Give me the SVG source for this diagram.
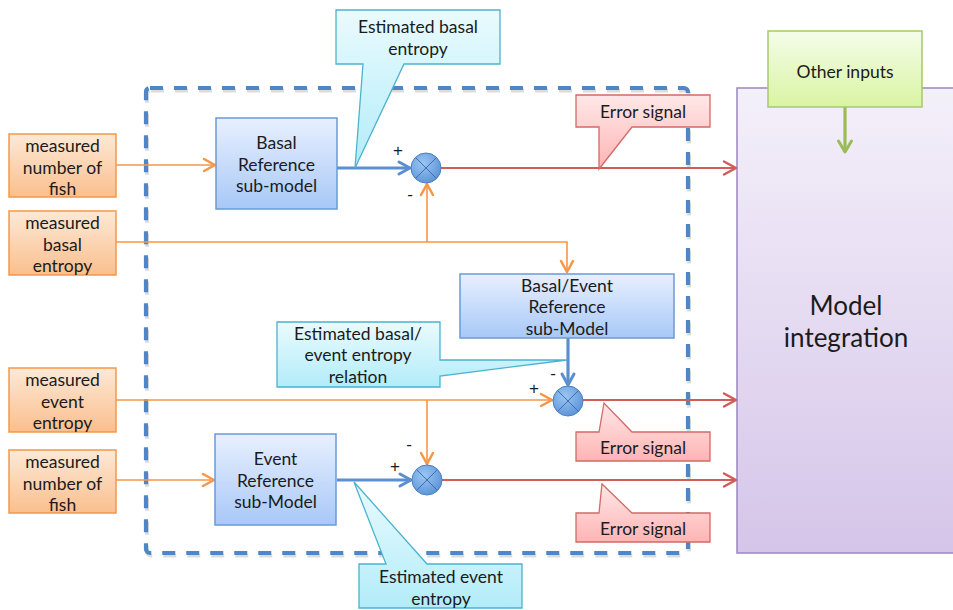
<svg xmlns="http://www.w3.org/2000/svg" width="953" height="610" viewBox="0 0 953 610">
  <defs>
    <linearGradient id="gOrange" x1="0" y1="0" x2="0" y2="1">
      <stop offset="0" stop-color="#fde9d6"/>
      <stop offset="1" stop-color="#fabf8e"/>
    </linearGradient>
    <linearGradient id="gBlue" x1="0" y1="0" x2="0" y2="1">
      <stop offset="0" stop-color="#e8f0ff"/>
      <stop offset="1" stop-color="#a8c8f7"/>
    </linearGradient>
    <linearGradient id="gCyan" x1="0" y1="0" x2="0" y2="1">
      <stop offset="0" stop-color="#eafbfe"/>
      <stop offset="1" stop-color="#b2ecf9"/>
    </linearGradient>
    <linearGradient id="gPink" x1="0" y1="0" x2="0" y2="1">
      <stop offset="0" stop-color="#ffe8e8"/>
      <stop offset="1" stop-color="#ffb4b4"/>
    </linearGradient>
    <linearGradient id="gGreen" x1="0" y1="0" x2="0" y2="1">
      <stop offset="0" stop-color="#f5fdea"/>
      <stop offset="1" stop-color="#d9f4a2"/>
    </linearGradient>
    <linearGradient id="gPurple" x1="0" y1="0" x2="0" y2="1">
      <stop offset="0" stop-color="#f4f0fa"/>
      <stop offset="1" stop-color="#d5c5e9"/>
    </linearGradient>
    <radialGradient id="gSum" cx="0.4" cy="0.35" r="0.7">
      <stop offset="0" stop-color="#9cc6f3"/>
      <stop offset="1" stop-color="#5a92d6"/>
    </radialGradient>
    <marker id="arOrange" markerUnits="userSpaceOnUse" markerWidth="16" markerHeight="16" refX="12" refY="7" orient="auto" overflow="visible">
      <path d="M1,1 L12,7 L1,13" fill="none" stroke="#f79646" stroke-width="2.5" stroke-linejoin="round" stroke-linecap="round"/>
    </marker>
    <marker id="arRed" markerUnits="userSpaceOnUse" markerWidth="16" markerHeight="16" refX="12" refY="7" orient="auto" overflow="visible">
      <path d="M0,0.5 L12,7 L0,13.5" fill="none" stroke="#cf5d58" stroke-width="2.5" stroke-linejoin="round" stroke-linecap="round"/>
    </marker>
    <marker id="arBlue" markerUnits="userSpaceOnUse" markerWidth="16" markerHeight="16" refX="12" refY="7" orient="auto" overflow="visible">
      <path d="M1,1 L12,7 L1,13" fill="none" stroke="#5b8fcf" stroke-width="3" stroke-linejoin="round" stroke-linecap="round"/>
    </marker>
    <marker id="arGreen" markerUnits="userSpaceOnUse" markerWidth="16" markerHeight="16" refX="12" refY="7" orient="auto" overflow="visible">
      <path d="M1,0.5 L12,7 L1,13.5" fill="none" stroke="#9bbb59" stroke-width="3" stroke-linejoin="round" stroke-linecap="round"/>
    </marker>
  </defs>
  <style>
    text { font-family: Lato, "Open Sans", "DejaVu Sans", sans-serif; font-size: 17.5px; fill: #1b1b1b; text-anchor: middle; }
    .big { font-size: 26px; }
    .sign { font-size: 17px; font-family: "Liberation Sans", Arial, sans-serif; }
    .input rect { fill: url(#gOrange); stroke: #f79646; stroke-width: 1.5; }
    .model rect { fill: url(#gBlue); stroke: #6a9ad8; stroke-width: 1.5; }
    .note path { fill: url(#gCyan); stroke: #4bb3cf; stroke-width: 1.3; }
    .err path { fill: url(#gPink); stroke: #d26a66; stroke-width: 1.3; }
    .sum circle { fill: url(#gSum); stroke: #4a7fc2; stroke-width: 1; }
    .sum path { stroke: #3f6fae; stroke-width: 1; fill: none; }
    .o { stroke: #f79646; stroke-width: 1.6; fill: none; }
    .r { stroke: #cf5d58; stroke-width: 1.8; fill: none; }
    .b { stroke: #5b8fcf; stroke-width: 3.2; fill: none; }
    .g { stroke: #9bbb59; stroke-width: 3.2; fill: none; }
  </style>

  <rect width="953" height="610" fill="#ffffff"/>

  <!-- Model integration block -->
  <g id="model-integration">
    <rect x="737" y="88" width="222" height="465" fill="url(#gPurple)" stroke="#9b86c0" stroke-width="1.5"/>
    <text class="big" x="846" y="315">Model</text>
    <text class="big" x="846" y="347">integration</text>
  </g>

  <!-- Dashed boundary of the reference sub-models -->
  <g id="boundary">
    <rect x="146" y="88" width="542" height="465" rx="4" fill="none" stroke="#dcdcdc" stroke-width="4" stroke-dasharray="13 11" transform="translate(1,2.5)"/>
    <rect x="146" y="88" width="542" height="465" rx="4" fill="none" stroke="#4f87c6" stroke-width="4.2" stroke-dasharray="13 11"/>
  </g>

  <!-- Connectors -->
  <g id="connectors">
    <path class="o" d="M116,165 H215" marker-end="url(#arOrange)"/>
    <path class="o" d="M116,242 H567 V272" marker-end="url(#arOrange)"/>
    <path class="o" d="M427,242 V184" marker-end="url(#arOrange)"/>
    <path class="o" d="M116,400 H552" marker-end="url(#arOrange)"/>
    <path class="o" d="M427,400 V464" marker-end="url(#arOrange)"/>
    <path class="o" d="M116,480 H214" marker-end="url(#arOrange)"/>
    <path class="b" d="M337,168 H410" marker-end="url(#arBlue)"/>
    <path class="b" d="M568,338 V385" marker-end="url(#arBlue)"/>
    <path class="b" d="M337,480 H411" marker-end="url(#arBlue)"/>
    <path class="g" d="M845,107 V152" marker-end="url(#arGreen)"/>
    <path class="r" d="M441,168 H736" marker-end="url(#arRed)"/>
    <path class="r" d="M583,400 H736" marker-end="url(#arRed)"/>
    <path class="r" d="M442,480 H736" marker-end="url(#arRed)"/>
  </g>

  <!-- Measured inputs -->
  <g id="in-fish-1" class="input">
    <rect x="9" y="134" width="107" height="63"/>
    <text x="62.5" y="152">measured</text>
    <text x="62.5" y="173.5">number of</text>
    <text x="62.5" y="195">fish</text>
  </g>
  <g id="in-basal" class="input">
    <rect x="9" y="211" width="107" height="64"/>
    <text x="62.5" y="229">measured</text>
    <text x="62.5" y="250.5">basal</text>
    <text x="62.5" y="272">entropy</text>
  </g>
  <g id="in-event" class="input">
    <rect x="9" y="368" width="107" height="64"/>
    <text x="62.5" y="386">measured</text>
    <text x="62.5" y="407.5">event</text>
    <text x="62.5" y="429">entropy</text>
  </g>
  <g id="in-fish-2" class="input">
    <rect x="9" y="450" width="107" height="63"/>
    <text x="62.5" y="468">measured</text>
    <text x="62.5" y="489.5">number of</text>
    <text x="62.5" y="511">fish</text>
  </g>

  <!-- Reference sub-models -->
  <g id="basal-model" class="model">
    <rect x="216" y="118" width="121" height="91"/>
    <text x="276.5" y="149">Basal</text>
    <text x="276.5" y="171">Reference</text>
    <text x="276.5" y="192">sub-model</text>
  </g>
  <g id="basal-event-model" class="model">
    <rect x="460" y="274" width="214" height="64"/>
    <text x="567" y="292">Basal/Event</text>
    <text x="567" y="313">Reference</text>
    <text x="567" y="335">sub-Model</text>
  </g>
  <g id="event-model" class="model">
    <rect x="215" y="434" width="121" height="91"/>
    <text x="275.5" y="465">Event</text>
    <text x="275.5" y="487">Reference</text>
    <text x="275.5" y="508">sub-Model</text>
  </g>

  <!-- Comparators -->
  <g id="sum-basal" class="sum">
    <circle cx="426" cy="168" r="15"/>
    <path d="M415.4,157.4 L436.6,178.6 M436.6,157.4 L415.4,178.6"/>
    <text class="sign" x="398" y="156">+</text>
    <text class="sign" x="410" y="200">-</text>
  </g>
  <g id="sum-relation" class="sum">
    <circle cx="568" cy="401" r="15"/>
    <path d="M557.4,390.4 L578.6,411.6 M578.6,390.4 L557.4,411.6"/>
    <text class="sign" x="534" y="394">+</text>
    <text class="sign" x="553" y="379">-</text>
  </g>
  <g id="sum-event" class="sum">
    <circle cx="427" cy="480" r="15"/>
    <path d="M416.4,469.4 L437.6,490.6 M437.6,469.4 L416.4,490.6"/>
    <text class="sign" x="395" y="472">+</text>
    <text class="sign" x="409" y="450">-</text>
  </g>

  <!-- Other inputs -->
  <g id="other-inputs">
    <rect x="768" y="31" width="154" height="76" fill="url(#gGreen)" stroke="#a6c96a" stroke-width="1.5"/>
    <text x="845" y="78">Other inputs</text>
  </g>

  <!-- Callouts -->
  <g id="note-basal" class="note">
    <path d="M336,10 H500 V64 H404 L355,168 L363,64 H336 Z"/>
    <text x="418" y="33">Estimated basal</text>
    <text x="418" y="55">entropy</text>
  </g>
  <g id="note-relation" class="note">
    <path d="M277,322 H440 V360 H567 L440,376 V387 H277 Z"/>
    <text x="358" y="340">Estimated basal/</text>
    <text x="358" y="361">event entropy</text>
    <text x="358" y="383">relation</text>
  </g>
  <g id="note-event" class="note">
    <path d="M359,564 H386 L354,482 L427,564 H522 V608 H359 Z"/>
    <text x="441" y="583">Estimated event</text>
    <text x="441" y="605">entropy</text>
  </g>
  <g id="err-basal" class="err">
    <path d="M576,95 H710 V127 H632 L599,169 V127 H576 Z"/>
    <text x="643" y="118">Error signal</text>
  </g>
  <g id="err-relation" class="err">
    <path d="M576,432 H599 L604,403 L632,432 H710 V461 H576 Z"/>
    <text x="643" y="454">Error signal</text>
  </g>
  <g id="err-event" class="err">
    <path d="M576,513 H599 L602,484 L632,513 H710 V542 H576 Z"/>
    <text x="643" y="535">Error signal</text>
  </g>
</svg>
